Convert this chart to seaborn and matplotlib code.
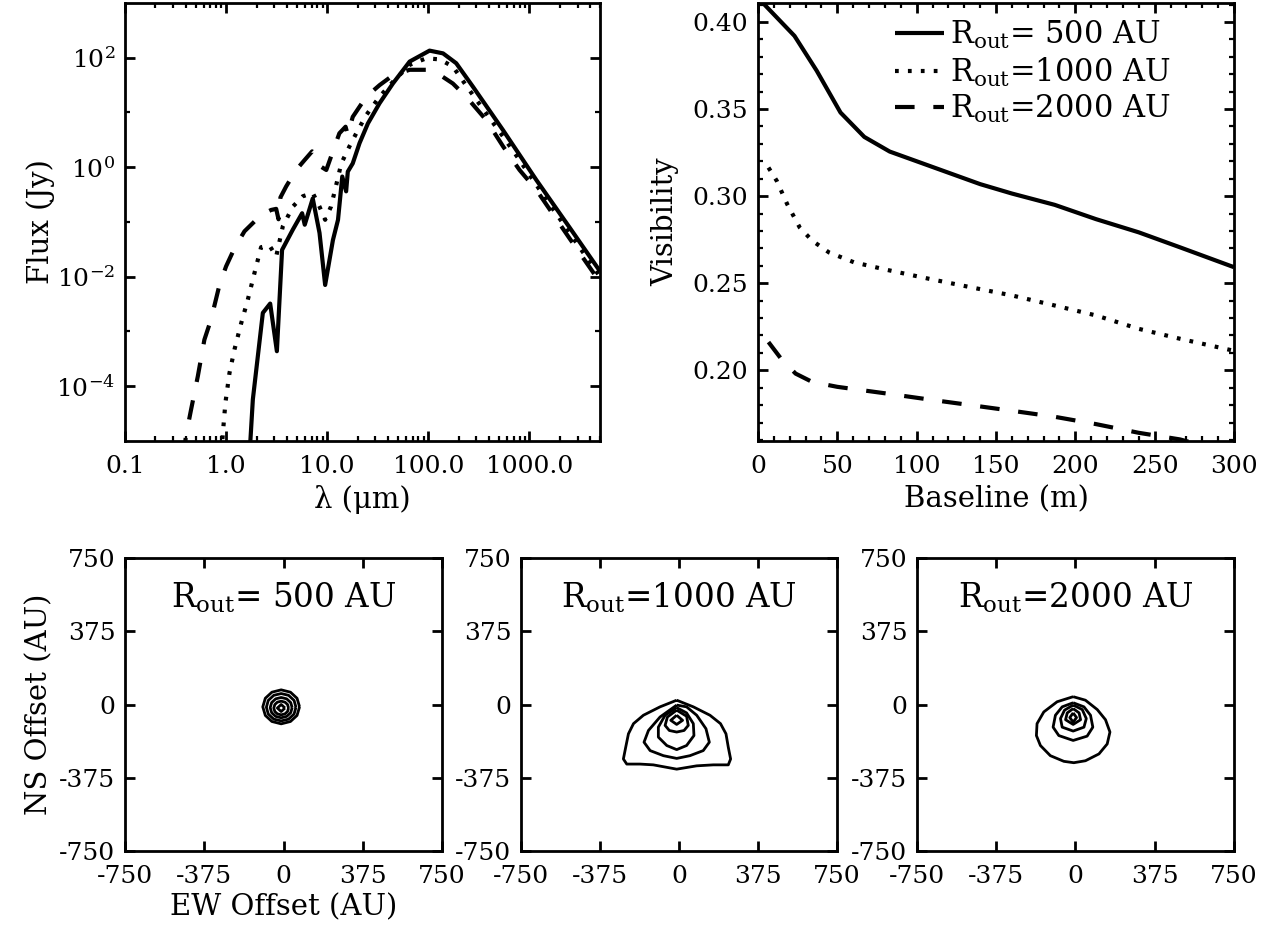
import numpy as np
import matplotlib
matplotlib.use("Agg")
import matplotlib.pyplot as plt
import matplotlib.ticker as mticker
import seaborn as sns

# ---------------- data ----------------
labels = [r"R$_{\mathrm{out}}$= 500 AU", r"R$_{\mathrm{out}}$=1000 AU", r"R$_{\mathrm{out}}$=2000 AU"]

# SED: wavelength (micron) and log10 flux (Jy)
lam_500 = [1.70, 1.84, 2.31, 2.73, 3.18, 3.58, 4.57, 5.65, 6.0, 7.2, 8.4, 9.55, 11.4, 12.8,
           14.1, 15.4, 16.0, 17.9, 20.9, 25.3, 33, 44.7, 65.4, 103, 140, 189, 277, 548, 1170, 2500, 5000]
logf_500 = [-5.3, -4.24, -2.66, -2.49, -3.36, -1.51, -1.14, -0.84, -1.05, -0.57, -1.20, -2.15, -1.33, -0.96,
            -0.17, -0.44, -0.08, 0.07, 0.44, 0.80, 1.17, 1.53, 1.93, 2.13, 2.08, 1.90, 1.47, 0.68, -0.23, -1.10, -1.90]

lam_1000 = [0.90, 0.93, 0.985, 1.08, 1.21, 1.41, 1.64, 1.91, 2.22, 2.69, 3.13, 3.64, 4.57, 5.74, 7.2, 8.4,
            9.55, 10.9, 12.3, 13.8, 16.6, 19.4, 24.3, 33, 44.7, 65.4, 95.5, 130, 175, 255, 375, 550, 800,
            1170, 2500, 5000]
logf_1000 = [-5.2, -4.85, -4.30, -3.76, -3.33, -2.85, -2.42, -1.93, -1.46, -1.43, -1.63, -1.08, -0.72, -0.53,
             -0.47, -0.72, -0.96, -0.72, -0.32, 0.07, 0.38, 0.62, 0.95, 1.29, 1.56, 1.87, 1.99, 1.97, 1.84,
             1.41, 0.98, 0.56, 0.13, -0.32, -1.20, -2.00]

lam_2000 = [0.38, 0.40, 0.45, 0.525, 0.61, 0.71, 0.86, 1.0, 1.21, 1.52, 1.84, 2.22, 2.79, 3.13, 3.30, 3.45,
            3.93, 4.93, 5.97, 7.1, 8.1, 8.7, 9.8, 10.9, 13.2, 15.2, 16.0, 17.9, 24.4, 33, 44.7, 65.4, 95.5,
            120, 175, 237, 375, 550, 800, 1170, 2500, 5000]
logf_2000 = [-5.3, -4.91, -4.43, -3.82, -3.15, -2.78, -2.15, -1.81, -1.48, -1.17, -1.02, -0.87, -0.78, -0.76,
             -0.95, -0.55, -0.35, -0.05, 0.13, 0.29, 0.19, 0.01, -0.05, 0.19, 0.62, 0.74, 0.59, 0.92, 1.29,
             1.50, 1.68, 1.78, 1.78, 1.73, 1.53, 1.29, 0.86, 0.38, -0.05, -0.41, -1.30, -2.10]

# Visibility vs baseline (m)
base_500 = [3, 23, 37, 52, 67, 83, 108, 140, 160, 187, 213, 240, 266, 300]
vis_500 = [0.411, 0.392, 0.372, 0.348, 0.334, 0.3256, 0.3174, 0.3069, 0.3015, 0.295, 0.2868, 0.2792, 0.2706, 0.2592]
base_1000 = [6.6, 11.8, 18.4, 26.3, 34.2, 44.7, 60.5, 81.6, 108, 134, 160.5, 187, 213, 240, 266, 299]
vis_1000 = [0.3164, 0.3088, 0.2954, 0.282, 0.2744, 0.2677, 0.262, 0.2576, 0.2525, 0.2477, 0.2429, 0.2372,
            0.2315, 0.2238, 0.2181, 0.2114]
base_2000 = [6.6, 14.5, 23.7, 34.2, 50, 81.6, 108, 134, 160.5, 187, 213, 240, 266, 300]
vis_2000 = [0.2162, 0.2067, 0.1981, 0.1933, 0.1905, 0.1866, 0.1832, 0.18, 0.1767, 0.1733, 0.1691, 0.1641,
            0.1603, 0.152]

# Contour lines (AU offsets), one list per contour level
c500_x = [[76, 64, 33, -11, -55, -86, -98, -86, -55, -11, 33, 64],
          [59, 50, 24, -11, -46, -72, -81, -72, -46, -11, 24, 50],
          [41, 34, 15, -11, -37, -56, -63, -56, -37, -11, 15, 34],
          [24, 19, 7, -11, -29, -41, -46, -41, -29, -11, 7, 19],
          [7, -11, -29, -11]]
c500_y = [[-12, 32, 63, 75, 63, 32, -12, -56, -87, -99, -87, -56],
          [-14, 21, 47, 56, 47, 21, -14, -49, -75, -84, -75, -49],
          [-16, 10, 29, 36, 29, 10, -16, -42, -61, -68, -61, -42],
          [-18, 0, 12, 17, 12, 0, -18, -36, -48, -53, -48, -36],
          [-18, 0, -18, -36]]

c1000_x = [[-11, -90, -169, -216, -240, -253, -264, -248, -185, -122, -11, 84, 163, 234, 245, 234, 223, 197, 147, 68],
           [-11, -90, -145, -166, -137, -74, -11, 52, 115, 144, 128, 84, 36],
           [-11, -66, -98, -98, -58, -11, 36, 71, 68, 36],
           [-11, -55, -66, -46, -11, 24, 44, 36],
           [-11, -39, -11, 17]]
c1000_y = [[22, -12, -55, -98, -150, -219, -279, -305, -305, -309, -331, -314, -309, -309, -279, -219, -150, -98, -55, -12],
           [-3, -64, -133, -193, -236, -262, -276, -262, -236, -193, -124, -55, -12],
           [-16, -55, -116, -167, -210, -231, -210, -159, -98, -43],
           [-29, -64, -107, -133, -141, -133, -107, -60],
           [-55, -81, -102, -81]]

c2000_x = [[-11, -87, -150, -182, -185, -166, -119, -55, -8, 47, 111, 150, 163, 142, 103, 47],
           [-11, -63, -95, -106, -79, -11, 55, 82, 71, 40],
           [-11, -52, -71, -63, -11, 40, 51, 32],
           [-11, -39, -47, -11, 24, 17],
           [-11, -27, -11, 5]]
c2000_y = [[40, 14, -38, -98, -159, -210, -262, -291, -298, -288, -253, -202, -141, -78, -26, 22],
           [9, -12, -55, -116, -159, -184, -162, -116, -55, -12],
           [-3, -29, -72, -116, -136, -116, -72, -26],
           [-21, -43, -78, -102, -78, -43],
           [-43, -67, -90, -67]]

offset_ticks = [-750, -375, 0, 375, 750]

# ---------------- style ----------------
sns.set_theme(style="ticks")
plt.rcParams.update({
    "font.family": ["DejaVu Serif"],
    "mathtext.fontset": "dejavuserif",
    "axes.linewidth": 2.0,
    "xtick.direction": "in", "ytick.direction": "in",
    "xtick.top": True, "ytick.right": True,
    "xtick.major.width": 2.0, "ytick.major.width": 2.0,
    "xtick.minor.width": 1.6, "ytick.minor.width": 1.6,
    "xtick.major.size": 7, "ytick.major.size": 7,
    "xtick.minor.size": 3.5, "ytick.minor.size": 3.5,
    "xtick.labelsize": 18, "ytick.labelsize": 18,
    "axes.labelsize": 21,
    "xtick.color": "black", "ytick.color": "black",
    "axes.edgecolor": "black", "text.color": "black", "axes.labelcolor": "black",
    "lines.solid_capstyle": "butt",
})

W, H = 1276, 930
fig = plt.figure(figsize=(W / 100, H / 100), dpi=100)


def add_ax(x0, x1, y0, y1):
    return fig.add_axes([x0 / W, 1 - y1 / H, (x1 - x0) / W, (y1 - y0) / H])


ax_sed = add_ax(125, 600, 3, 441)
ax_vis = add_ax(758, 1234, 3, 441)
ax_c = [add_ax(125, 442, 558, 851), add_ax(521, 837, 558, 851), add_ax(917, 1234, 558, 851)]

dot_style = (0, (0.9, 2.2))
dash_style = (0, (4.7, 4.5))
styles = ["-", dot_style, dash_style]
LW = 3.0

# ---------------- SED ----------------
sed_sets = [(lam_500, logf_500), (lam_1000, logf_1000), (lam_2000, logf_2000)]
for (lam, lf), ls in zip(sed_sets, styles):
    sns.lineplot(x=lam, y=10 ** np.asarray(lf), ax=ax_sed, color="black", lw=LW,
                 linestyle=ls, sort=False, estimator=None)
ax_sed.set_xscale("log")
ax_sed.set_yscale("log")
ax_sed.set_xlim(0.1, 5000)
ax_sed.set_ylim(1e-5, 1e3)
ax_sed.xaxis.set_major_locator(mticker.FixedLocator([0.1, 1, 10, 100, 1000]))
ax_sed.xaxis.set_major_formatter(mticker.FixedFormatter(["0.1", "1.0", "10.0", "100.0", "1000.0"]))
ax_sed.xaxis.set_minor_locator(mticker.LogLocator(base=10, subs=np.arange(2, 10), numticks=20))
ax_sed.xaxis.set_minor_formatter(mticker.NullFormatter())
ax_sed.yaxis.set_major_locator(mticker.FixedLocator([1e-4, 1e-2, 1, 1e2]))
ax_sed.yaxis.set_major_formatter(mticker.FixedFormatter([r"$10^{-4}$", r"$10^{-2}$", r"$10^{0}$", r"$10^{2}$"]))
ax_sed.yaxis.set_minor_locator(mticker.FixedLocator([1e-3, 1e-1, 1e1]))
ax_sed.yaxis.set_minor_formatter(mticker.NullFormatter())
ax_sed.set_xlabel("λ (μm)", labelpad=5)
ax_sed.set_ylabel("Flux (Jy)", labelpad=1)

# ---------------- Visibility ----------------
vis_sets = [(base_500, vis_500), (base_1000, vis_1000), (base_2000, vis_2000)]
for (b, v), ls, lab in zip(vis_sets, styles, labels):
    sns.lineplot(x=b, y=v, ax=ax_vis, color="black", lw=LW, linestyle=ls, label=lab,
                 sort=False, estimator=None)
ax_vis.set_xlim(0, 300)
ax_vis.set_ylim(0.1594, 0.4109)
ax_vis.xaxis.set_major_locator(mticker.MultipleLocator(50))
ax_vis.xaxis.set_minor_locator(mticker.MultipleLocator(10))
ax_vis.yaxis.set_major_locator(mticker.MultipleLocator(0.05))
ax_vis.yaxis.set_minor_locator(mticker.MultipleLocator(0.01))
ax_vis.yaxis.set_major_formatter(mticker.FormatStrFormatter("%.2f"))
ax_vis.set_xlabel("Baseline (m)", labelpad=5)
ax_vis.set_ylabel("Visibility", labelpad=10)
ax_vis.legend(loc="upper right", bbox_to_anchor=(0.885, 0.985), frameon=False, fontsize=22,
              handlelength=1.6, handletextpad=0.2, labelspacing=0.15, borderaxespad=0.1,
              borderpad=0.2)

for ax in (ax_sed, ax_vis):
    ax.tick_params(which="both", top=True, right=True, direction="in")
    ax.tick_params(axis="x", which="major", pad=10)
    ax.tick_params(axis="y", which="major", pad=7)

# ---------------- contour maps ----------------
cont_sets = [(c500_x, c500_y), (c1000_x, c1000_y), (c2000_x, c2000_y)]
for ax, (cxs, cys), lab in zip(ax_c, cont_sets, labels):
    for cx, cy in zip(cxs, cys):
        xs = list(cx) + [cx[0]]
        ys = list(cy) + [cy[0]]
        sns.lineplot(x=xs, y=ys, ax=ax, color="black", lw=2.0, sort=False, estimator=None)
    ax.set_xlim(-750, 750)
    ax.set_ylim(-750, 750)
    ax.set_xticks(offset_ticks)
    ax.set_yticks(offset_ticks)
    ax.set_xticklabels([str(t) for t in offset_ticks])
    ax.set_yticklabels([str(t) for t in offset_ticks])
    ax.minorticks_off()
    ax.tick_params(which="both", top=True, right=True, direction="in")
    ax.tick_params(axis="x", pad=10)
    ax.tick_params(axis="y", pad=7)
    ax.text(0.5, 0.83, lab, transform=ax.transAxes, ha="center", va="baseline", fontsize=23.5)

ax_c[0].set_ylabel("NS Offset (AU)", labelpad=4)
ax_c[0].set_xlabel("EW Offset (AU)", labelpad=4)

fig.savefig("out.png", dpi=100)
